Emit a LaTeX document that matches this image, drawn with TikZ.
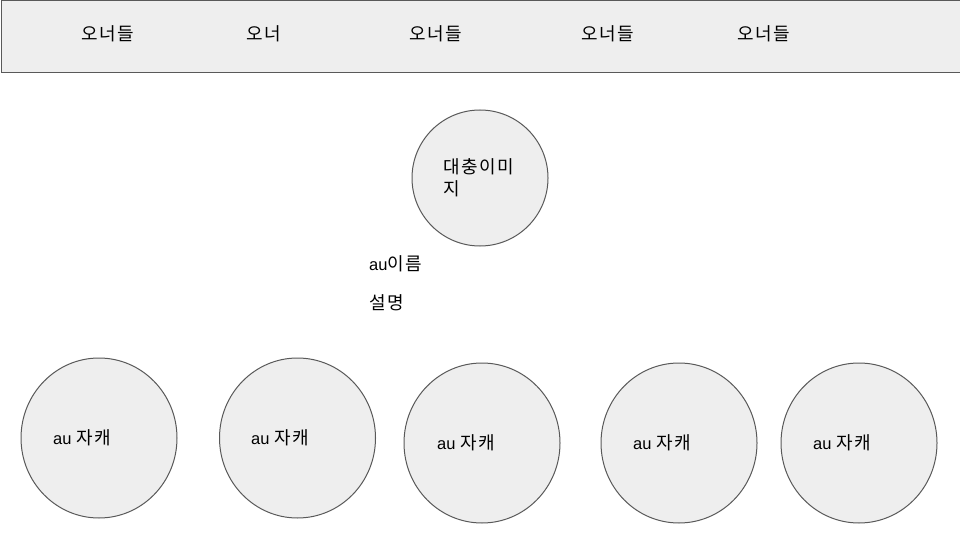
\documentclass[tikz,border=0pt]{standalone}
\usepackage{fontspec}
\setmainfont{Liberation Sans}
\newfontfamily\kr[Scale=1.09, LetterSpace=9]{Noto Sans CJK KR}
\usetikzlibrary{shapes.geometric}
\definecolor{fillg}{HTML}{EEEEEE}
\definecolor{lineg}{HTML}{595959}
\begin{document}
\begin{tikzpicture}[x=1pt,y=-1pt,
  shapebox/.style={draw=lineg, fill=fillg, line width=1pt, inner sep=0pt},
  bubble/.style={shapebox, ellipse, minimum width=156pt, minimum height=160pt},
  lbl/.style={inner sep=0pt, font=\fontsize{16.5}{22}\selectfont, text=black},
  lblw/.style={lbl, anchor=west, align=left}]
\useasboundingbox (0,0) rectangle (960,540);
\begin{scope}
\clip (0,0) rectangle (960,540);
\node[shapebox, rectangle, minimum width=970pt, minimum height=71.5pt, anchor=north west] (bar) at (0.5,0.5) {};
\end{scope}
\node[lbl] (o1) at (108,34) {\kr 오너들};
\node[lbl] (o2) at (264,34) {\kr 오너};
\node[lbl] (o3) at (436,34) {\kr 오너들};
\node[lbl] (o4) at (608,34) {\kr 오너들};
\node[lbl] (o5) at (764,34) {\kr 오너들};

\node[shapebox, circle, minimum size=136pt] (img) at (480,178) {};
\node[lblw] (imgt) at (443,178) {\kr 대충이미\\\kr 지};

\node[lblw] (name) at (369,264) {au{\kr 이름}};
\node[lblw] (desc) at (369,303) {\kr 설명};

\node[bubble] (c1) at (99,438) {};
\node[bubble] (c2) at (297.5,438) {};
\node[bubble] (c3) at (482,443) {};
\node[bubble] (c4) at (679,443) {};
\node[bubble] (c5) at (859,443) {};
\node[lblw] (t1) at (53,438) {au {\kr 자캐}};
\node[lblw] (t2) at (251,438) {au {\kr 자캐}};
\node[lblw] (t3) at (437,443) {au {\kr 자캐}};
\node[lblw] (t4) at (633,443) {au {\kr 자캐}};
\node[lblw] (t5) at (813,443) {au {\kr 자캐}};
\end{tikzpicture}
\end{document}
